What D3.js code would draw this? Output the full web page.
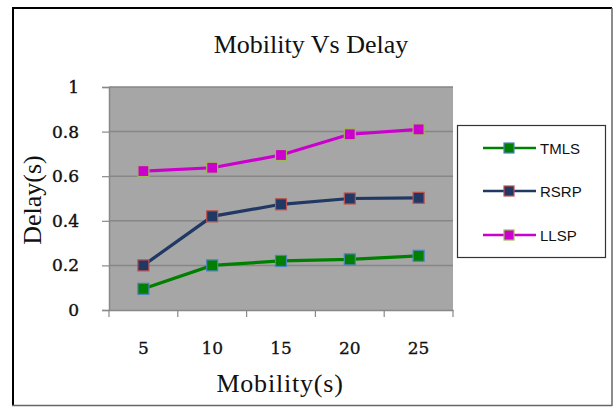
<!DOCTYPE html>
<html><head><meta charset="utf-8">
<script src="https://cdn.jsdelivr.net/npm/d3@7"></script>
<style>body{margin:0;background:#fff}svg{display:block}</style>
</head><body>
<svg id="c" width="614" height="407"></svg>
<script>
const categories = ["5","10","15","20","25"];
const seriesNames = ["TMLS","RSRP","LLSP"];
const tmls = [0.095, 0.20, 0.22, 0.227, 0.243];
const rsrp = [0.20, 0.42, 0.474, 0.50, 0.503];
const llsp = [0.623, 0.638, 0.695, 0.788, 0.81];
const yTicks = [0, 0.2, 0.4, 0.6, 0.8, 1];
const yTickLabels = ["0","0.2","0.4","0.6","0.8","1"];
const lineColors = ["#008000","#1f3864","#cc00cc"];
const markerBorders = ["#4f81bd","#c0504d","#9bbb59"];

(function(){
const svg = d3.select("#c");
// frame
svg.append("line").attr("x1",12).attr("y1",8).attr("x2",612).attr("y2",8).attr("stroke","#000").attr("stroke-width",2);
svg.append("line").attr("x1",13).attr("y1",8).attr("x2",13).attr("y2",406).attr("stroke","#000").attr("stroke-width",2);
svg.append("line").attr("x1",612).attr("y1",8).attr("x2",612).attr("y2",406).attr("stroke","#666").attr("stroke-width",1.5);
svg.append("line").attr("x1",12).attr("y1",405.5).attr("x2",612).attr("y2",405.5).attr("stroke","#666").attr("stroke-width",1.5);

const pL=109, pR=453, pT=87, pB=310;
const x = d3.scaleBand().domain(categories).range([pL,pR]);
const y = d3.scaleLinear().domain([0,1]).range([pB,pT]);

svg.append("rect").attr("x",pL).attr("y",pT).attr("width",pR-pL).attr("height",pB-pT).attr("fill","#a6a6a6");

// gridlines
svg.append("g").selectAll("line").data(yTicks.slice(1)).join("line")
  .attr("x1",pL).attr("x2",pR).attr("y1",d=>y(d)).attr("y2",d=>y(d))
  .attr("stroke","#868686").attr("stroke-width",1.5);

const tickFont = "DejaVu Serif, serif";
// y axis
const ya = svg.append("g").attr("transform",`translate(${pL},0)`)
  .call(d3.axisLeft(y).tickValues(yTicks).tickFormat((d,i)=>yTickLabels[i]).tickSize(7).tickPadding(23));
ya.select(".domain").attr("stroke","#888").attr("stroke-width",1.5);
ya.selectAll(".tick line").attr("stroke","#888").attr("stroke-width",1.2);
ya.selectAll("text").attr("font-family",tickFont).attr("font-size",17).attr("fill","#111")
  .attr("stroke","#111").attr("stroke-width",0.4);

// x axis
const xa = svg.append("g").attr("transform",`translate(0,${pB})`)
  .call(d3.axisBottom(x).tickSize(0).tickPadding(32));
xa.select(".domain").attr("stroke","#888").attr("stroke-width",1.5);
xa.selectAll("text").attr("font-family",tickFont).attr("font-size",17).attr("fill","#111")
  .attr("stroke","#111").attr("stroke-width",0.3);
const bounds = categories.map(c=>x(c)).concat([pR]);
svg.append("g").selectAll("line").data(bounds).join("line")
  .attr("x1",d=>d).attr("x2",d=>d).attr("y1",pB).attr("y2",pB+7)
  .attr("stroke","#888").attr("stroke-width",1.2);

// series
const data = [tmls, rsrp, llsp];
const line = d3.line().x((d,i)=>x(categories[i])+x.bandwidth()/2).y(d=>y(d));
data.forEach((vals,s)=>{
  svg.append("path").datum(vals).attr("d",line).attr("fill","none")
    .attr("stroke",lineColors[s]).attr("stroke-width",3.2);
  svg.append("g").selectAll("rect").data(vals).join("rect")
    .attr("x",(d,i)=>x(categories[i])+x.bandwidth()/2-5.5)
    .attr("y",d=>y(d)-5.5).attr("width",11).attr("height",11)
    .attr("fill",lineColors[s]).attr("stroke",markerBorders[s]).attr("stroke-width",1.2);
});

// legend
svg.append("rect").attr("x",457.5).attr("y",125.5).attr("width",148).attr("height",132)
  .attr("fill","#fff").attr("stroke","#333").attr("stroke-width",1.2);
const ly = [148,191,235];
seriesNames.forEach((n,s)=>{
  svg.append("line").attr("x1",483).attr("x2",536).attr("y1",ly[s]).attr("y2",ly[s])
    .attr("stroke",lineColors[s]).attr("stroke-width",2.5);
  svg.append("rect").attr("x",504).attr("y",ly[s]-5).attr("width",10).attr("height",10)
    .attr("fill",lineColors[s]).attr("stroke",markerBorders[s]).attr("stroke-width",1.2);
  svg.append("text").attr("x",540).attr("y",ly[s]+5.5).text(n)
    .attr("font-family","Liberation Sans, sans-serif").attr("font-size",15).attr("fill","#111");
});

// titles
const tf = "Liberation Serif, serif";
svg.append("text").attr("x",311).attr("y",53).attr("text-anchor","middle").text("Mobility Vs Delay")
  .attr("font-family",tf).attr("font-size",26).attr("fill","#111");
svg.append("text").attr("x",280).attr("y",392).attr("text-anchor","middle").text("Mobility(s)")
  .attr("font-family",tf).attr("font-size",26).attr("letter-spacing",0.8).attr("fill","#111");
svg.append("text").attr("transform","translate(41,200) rotate(-90)").attr("text-anchor","middle").text("Delay(s)")
  .attr("font-family",tf).attr("font-size",26).attr("fill","#111");
})();
</script>
</body></html>
